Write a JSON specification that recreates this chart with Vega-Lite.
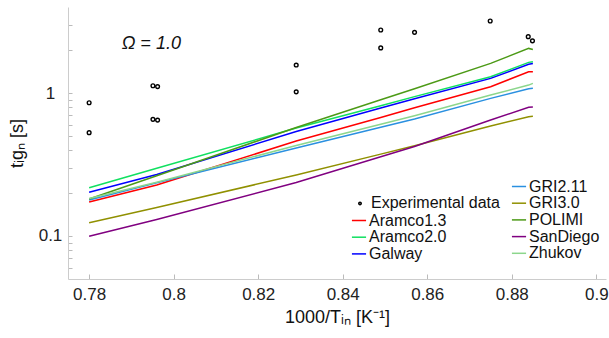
{
  "$schema": "https://vega.github.io/schema/vega-lite/v6.json",
  "width": 538,
  "height": 272,
  "autosize": {"type": "none"},
  "padding": {"left": 68, "top": 7, "right": 3, "bottom": 59},
  "background": "white",
  "config": {
    "view": {"stroke": null},
    "font": "Liberation Sans",
    "axis": {
      "grid": false,
      "domainColor": "#cccccc",
      "tickColor": "#bbbbbb",
      "labelColor": "#222222",
      "titleColor": "#111111",
      "labelFont": "Liberation Sans",
      "titleFont": "Liberation Sans",
      "labelFontSize": 17,
      "titleFontSize": 18,
      "titleFontWeight": "normal",
      "labelFlush": false,
      "labelOverlap": false
    },
    "legend": {
      "labelFont": "Liberation Sans",
      "labelFontSize": 16,
      "labelColor": "#111111",
      "padding": 0,
      "rowPadding": 0.7,
      "labelOffset": 2,
      "title": null
    }
  },
  "datasets": {
    "models": [
      {"model": "Aramco1.3", "x": 0.78, "t": 0.1729},
      {"model": "Aramco1.3", "x": 0.796, "t": 0.227},
      {"model": "Aramco1.3", "x": 0.829, "t": 0.4616},
      {"model": "Aramco1.3", "x": 0.849, "t": 0.675},
      {"model": "Aramco1.3", "x": 0.857, "t": 0.788},
      {"model": "Aramco1.3", "x": 0.875, "t": 1.107},
      {"model": "Aramco1.3", "x": 0.884, "t": 1.409},
      {"model": "Aramco1.3", "x": 0.885, "t": 1.409},
      {"model": "Aramco2.0", "x": 0.78, "t": 0.2177},
      {"model": "Aramco2.0", "x": 0.796, "t": 0.2974},
      {"model": "Aramco2.0", "x": 0.829, "t": 0.569},
      {"model": "Aramco2.0", "x": 0.849, "t": 0.814},
      {"model": "Aramco2.0", "x": 0.857, "t": 0.944},
      {"model": "Aramco2.0", "x": 0.875, "t": 1.3},
      {"model": "Aramco2.0", "x": 0.884, "t": 1.639},
      {"model": "Aramco2.0", "x": 0.885, "t": 1.655},
      {"model": "Galway", "x": 0.78, "t": 0.2021},
      {"model": "Galway", "x": 0.796, "t": 0.2692},
      {"model": "Galway", "x": 0.829, "t": 0.538},
      {"model": "Galway", "x": 0.849, "t": 0.785},
      {"model": "Galway", "x": 0.857, "t": 0.912},
      {"model": "Galway", "x": 0.875, "t": 1.267},
      {"model": "Galway", "x": 0.884, "t": 1.588},
      {"model": "Galway", "x": 0.885, "t": 1.608},
      {"model": "GRI2.11", "x": 0.78, "t": 0.1786},
      {"model": "GRI2.11", "x": 0.796, "t": 0.2355},
      {"model": "GRI2.11", "x": 0.829, "t": 0.4125},
      {"model": "GRI2.11", "x": 0.849, "t": 0.5766},
      {"model": "GRI2.11", "x": 0.857, "t": 0.658},
      {"model": "GRI2.11", "x": 0.875, "t": 0.918},
      {"model": "GRI2.11", "x": 0.884, "t": 1.072},
      {"model": "GRI2.11", "x": 0.885, "t": 1.079},
      {"model": "GRI3.0", "x": 0.78, "t": 0.1239},
      {"model": "GRI3.0", "x": 0.796, "t": 0.1582},
      {"model": "GRI3.0", "x": 0.829, "t": 0.267},
      {"model": "GRI3.0", "x": 0.849, "t": 0.3739},
      {"model": "GRI3.0", "x": 0.857, "t": 0.428},
      {"model": "GRI3.0", "x": 0.875, "t": 0.5877},
      {"model": "GRI3.0", "x": 0.884, "t": 0.683},
      {"model": "GRI3.0", "x": 0.885, "t": 0.6874},
      {"model": "POLIMI", "x": 0.78, "t": 0.1815},
      {"model": "POLIMI", "x": 0.796, "t": 0.2636},
      {"model": "POLIMI", "x": 0.829, "t": 0.5746},
      {"model": "POLIMI", "x": 0.849, "t": 0.898},
      {"model": "POLIMI", "x": 0.857, "t": 1.073},
      {"model": "POLIMI", "x": 0.875, "t": 1.613},
      {"model": "POLIMI", "x": 0.884, "t": 2.053},
      {"model": "POLIMI", "x": 0.885, "t": 2.02},
      {"model": "SanDiego", "x": 0.78, "t": 0.0995},
      {"model": "SanDiego", "x": 0.796, "t": 0.1306},
      {"model": "SanDiego", "x": 0.829, "t": 0.2366},
      {"model": "SanDiego", "x": 0.849, "t": 0.358},
      {"model": "SanDiego", "x": 0.857, "t": 0.4224},
      {"model": "SanDiego", "x": 0.875, "t": 0.6475},
      {"model": "SanDiego", "x": 0.884, "t": 0.7943},
      {"model": "SanDiego", "x": 0.885, "t": 0.798},
      {"model": "Zhukov", "x": 0.78, "t": 0.1829},
      {"model": "Zhukov", "x": 0.796, "t": 0.2377},
      {"model": "Zhukov", "x": 0.829, "t": 0.4295},
      {"model": "Zhukov", "x": 0.849, "t": 0.605},
      {"model": "Zhukov", "x": 0.857, "t": 0.694},
      {"model": "Zhukov", "x": 0.875, "t": 0.968},
      {"model": "Zhukov", "x": 0.884, "t": 1.137},
      {"model": "Zhukov", "x": 0.885, "t": 1.169}
    ],
    "experiments": [
      {"kind": "Experimental data", "x": 0.78, "t": 0.855},
      {"kind": "Experimental data", "x": 0.78, "t": 0.528},
      {"kind": "Experimental data", "x": 0.7951, "t": 1.125},
      {"kind": "Experimental data", "x": 0.7962, "t": 1.11},
      {"kind": "Experimental data", "x": 0.7951, "t": 0.655},
      {"kind": "Experimental data", "x": 0.7962, "t": 0.647},
      {"kind": "Experimental data", "x": 0.829, "t": 1.57},
      {"kind": "Experimental data", "x": 0.829, "t": 1.02},
      {"kind": "Experimental data", "x": 0.849, "t": 2.76},
      {"kind": "Experimental data", "x": 0.849, "t": 2.07},
      {"kind": "Experimental data", "x": 0.857, "t": 2.66},
      {"kind": "Experimental data", "x": 0.8749, "t": 3.19},
      {"kind": "Experimental data", "x": 0.8839, "t": 2.48},
      {"kind": "Experimental data", "x": 0.8849, "t": 2.32}
    ],
    "notes": [
      {"label": "Ω = 1.0", "x": 0.7877, "t": 2.22}
    ]
  },
  "encoding": {
    "x": {
      "field": "x",
      "type": "quantitative",
      "scale": {"domain": [0.775, 0.9023], "nice": false, "zero": false},
      "axis": {
        "title": "1000/Tᵢₙ [K⁻¹]",
        "values": [0.78, 0.8, 0.82, 0.84, 0.86, 0.88, 0.9],
        "format": "~g",
        "tickSize": -5,
        "labelPadding": 12,
        "titlePadding": 6
      }
    },
    "y": {
      "field": "t",
      "type": "quantitative",
      "scale": {"type": "log", "domain": [0.05, 4], "nice": false},
      "axis": {
        "title": "tᵢgₙ [s]",
        "values": [0.06, 0.07, 0.08, 0.09, 0.1, 0.2, 0.3, 0.4, 0.5, 0.6, 0.7, 0.8, 0.9, 1, 2, 3],
        "labelExpr": "datum.value == 1 ? '1' : (datum.value == 0.1 ? '0.1' : '')",
        "labelAlign": "center",
        "tickSize": -4,
        "labelPadding": 22,
        "titlePadding": 12
      }
    }
  },
  "layer": [
    {
      "data": {"name": "models"},
      "transform": [{"filter": "indexof(['Aramco1.3','Aramco2.0','Galway'], datum.model) >= 0"}],
      "mark": {"type": "line", "strokeWidth": 1.5},
      "encoding": {
        "color": {
          "field": "model",
          "type": "nominal",
          "scale": {"domain": ["Aramco1.3", "Aramco2.0", "Galway"], "range": ["#ff0000", "#10e060", "#0000ff"]},
          "legend": {"orient": "none", "legendX": 283, "legendY": 205.5, "symbolSize": 200, "symbolStrokeWidth": 1.5, "symbolType": "stroke"}
        }
      }
    },
    {
      "data": {"name": "models"},
      "transform": [{"filter": "indexof(['Aramco1.3','Aramco2.0','Galway'], datum.model) < 0"}],
      "mark": {"type": "line", "strokeWidth": 1.5},
      "encoding": {
        "stroke": {
          "field": "model",
          "type": "nominal",
          "scale": {"domain": ["GRI2.11", "GRI3.0", "POLIMI", "SanDiego", "Zhukov"], "range": ["#2a90e0", "#909000", "#4c9a16", "#800080", "#8cd68c"]},
          "legend": {"orient": "none", "legendX": 443, "legendY": 171.5, "symbolSize": 200, "symbolStrokeWidth": 1.5, "symbolType": "stroke"}
        }
      }
    },
    {
      "data": {"name": "experiments"},
      "mark": {"type": "point", "filled": false, "color": "#000000", "opacity": 1, "size": 14, "strokeWidth": 1.4},
      "encoding": {
        "shape": {
          "field": "kind",
          "type": "nominal",
          "scale": {"range": ["circle"]},
          "legend": {"orient": "none", "legendX": 284, "legendY": 188.4, "symbolSize": 6, "symbolOpacity": 1, "symbolFillColor": "#000000", "symbolStrokeColor": "#000000", "labelOffset": 3}
        }
      }
    },
    {
      "data": {"name": "notes"},
      "mark": {"type": "text", "align": "left", "baseline": "middle", "fontSize": 18, "fontStyle": "italic", "font": "Liberation Sans", "color": "#111111"},
      "encoding": {"text": {"field": "label", "type": "nominal"}}
    }
  ]
}
